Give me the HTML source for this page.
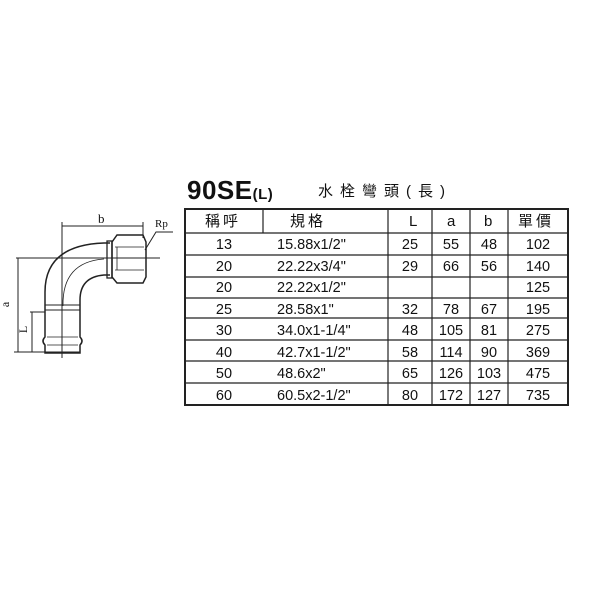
<!DOCTYPE html>
<html><head><meta charset="utf-8"><style>
body{margin:0;width:600px;height:600px;background:#fff;position:relative;overflow:hidden;font-family:"Liberation Sans","Noto Sans CJK TC",sans-serif;color:#111}
.t{position:absolute;white-space:nowrap}
.c{position:absolute;white-space:nowrap}
</style></head><body>
<svg width="600" height="600" style="position:absolute;left:0;top:0" fill="none" stroke="#222" stroke-width="1">
<path d="M45,307 L45,292 Q45,245 104,243 L110,243" stroke-width="1.5"/>
<path d="M80,307 L80,300 Q80,277 104,275 L110,275" stroke-width="1.5"/>
<path d="M63,306 Q62,262 104,259" stroke-width="0.8"/>
<rect x="107" y="241" width="5" height="37" stroke-width="1.3"/>
<path d="M112,242 L117,235 L143,235 L146,242 L146,277 L143,283 L117,283 L112,277 Z" stroke-width="1.5"/>
<path d="M115,247 L144,247 M115,270 L144,270 M117,247 L117,270" stroke-width="0.8"/>
<path d="M45,305 L80,305 M45,310 L80,310" stroke-width="1"/>
<path d="M45,307 L45,337 Q41,341 45,345 L45,353 L80,353 L80,345 Q84,341 80,337 L80,307" stroke-width="1.5"/>
<path d="M47,345 L78,345 M47,337 L78,337" stroke-width="0.8"/>
<line x1="16" y1="258" x2="160" y2="258"/>
<line x1="62" y1="222" x2="62" y2="358"/>
<line x1="143" y1="222" x2="143" y2="238"/>
<line x1="62" y1="226" x2="143" y2="226"/>
<line x1="18" y1="258" x2="18" y2="352"/>
<line x1="14" y1="352" x2="80" y2="352"/>
<line x1="32" y1="312" x2="32" y2="352"/>
<line x1="30" y1="312" x2="45" y2="312"/>
<polyline points="145,250 156,232 173,232"/>
<rect x="185" y="209" width="383" height="196" stroke-width="2"/>
<g stroke-width="1.2">
<line x1="185" y1="233" x2="568" y2="233"/>
<line x1="185" y1="255" x2="568" y2="255"/>
<line x1="185" y1="277" x2="568" y2="277"/>
<line x1="185" y1="298" x2="568" y2="298"/>
<line x1="185" y1="318" x2="568" y2="318"/>
<line x1="185" y1="340" x2="568" y2="340"/>
<line x1="185" y1="361" x2="568" y2="361"/>
<line x1="185" y1="383" x2="568" y2="383"/>
<line x1="263" y1="209" x2="263" y2="233"/>
<line x1="388" y1="209" x2="388" y2="405"/>
<line x1="432" y1="209" x2="432" y2="405"/>
<line x1="470" y1="209" x2="470" y2="405"/>
<line x1="508" y1="209" x2="508" y2="405"/>
</g>
</svg>
<div class="t" style="left:98px;top:211px;font-size:13px;font-family:'Liberation Serif',serif">b</div>
<div class="t" style="left:155px;top:218px;font-size:11px;font-family:'Liberation Serif',serif">Rp</div>
<div class="t" style="left:3px;top:297px;font-size:12px;font-family:'Liberation Serif',serif;transform:rotate(-90deg)">a</div>
<div class="t" style="left:20px;top:322px;font-size:12px;font-family:'Liberation Serif',serif;transform:rotate(-90deg)">L</div>
<div class="t" style="left:187px;top:175px;font-size:26px;font-weight:bold;letter-spacing:0.5px">90SE<span style="font-size:15px">(L)</span></div>
<div class="t" style="left:318px;top:180px;font-size:15px;letter-spacing:7px">水栓彎頭(長)</div>
<div style="position:absolute;left:185px;top:209px;font-size:15px;line-height:22px">
<div class="t" style="left:20px;top:2px;letter-spacing:3px">稱呼</div>
<div class="t" style="left:105px;top:2px;letter-spacing:3px">規格</div>
<div class="t" style="left:224px;top:2px">L</div>
<div class="t" style="left:262px;top:2px">a</div>
<div class="t" style="left:299px;top:2px">b</div>
<div class="t" style="left:333px;top:2px;letter-spacing:3px">單價</div>
</div>
<div style="position:absolute;left:185px;top:235px;font-size:14.5px;line-height:21.5px">
<div class="c" style="left:0;width:78px;text-align:center">13<br>20<br>20<br>25<br>30<br>40<br>50<br>60</div>
<div class="c" style="left:92px">15.88x1/2"<br>22.22x3/4"<br>22.22x1/2"<br>28.58x1"<br>34.0x1-1/4"<br>42.7x1-1/2"<br>48.6x2"<br>60.5x2-1/2"</div>
<div class="c" style="left:203px;width:44px;text-align:center">25<br>29<br>&nbsp;<br>32<br>48<br>58<br>65<br>80</div>
<div class="c" style="left:247px;width:38px;text-align:center">55<br>66<br>&nbsp;<br>78<br>105<br>114<br>126<br>172</div>
<div class="c" style="left:285px;width:38px;text-align:center">48<br>56<br>&nbsp;<br>67<br>81<br>90<br>103<br>127</div>
<div class="c" style="left:323px;width:60px;text-align:center">102<br>140<br>125<br>195<br>275<br>369<br>475<br>735</div>
</div>
</body></html>
